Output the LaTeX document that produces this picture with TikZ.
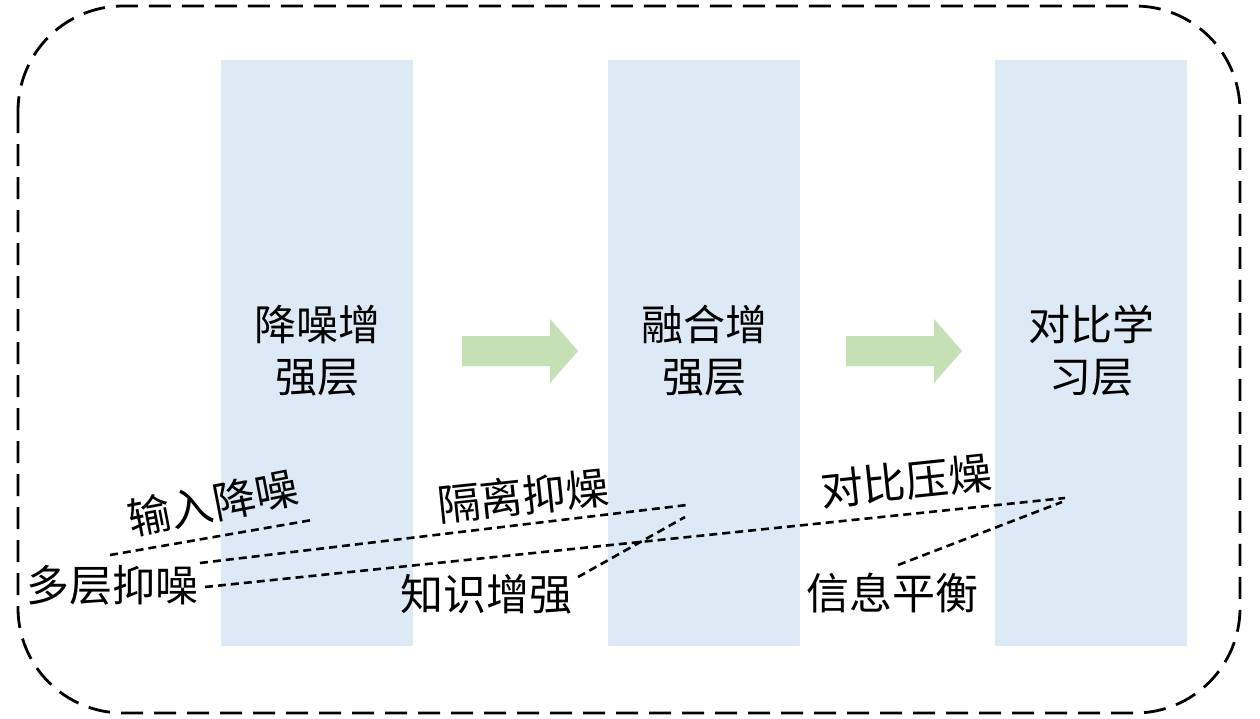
\documentclass[tikz,border=0pt]{standalone}
\usepackage{fontspec}
\setmainfont{Noto Sans CJK SC}
\definecolor{layerblue}{HTML}{DDE9F5}
\definecolor{arrowgreen}{HTML}{C5E0B4}
\tikzset{
  layer/.style={fill=layerblue, draw=none, minimum width=192pt, minimum height=586pt, inner sep=0pt},
  layertext/.style={align=center, font=\fontsize{42}{52}\selectfont, inner sep=0pt},
  flow/.style={fill=arrowgreen, draw=none},
  lbl/.style={font=\fontsize{43}{43}\selectfont, inner sep=0pt},
  dotline/.style={line width=2.6pt, dash pattern=on 8pt off 5pt},
  frame/.style={line width=2.8pt, dash pattern=on 22pt off 11pt, rounded corners=105pt}
}
\begin{document}
\begin{tikzpicture}[x=1pt,y=-1pt]
\useasboundingbox (0,0) rectangle (1260,718);
\draw[frame] (18,6) rectangle (1240,713);
% layers
\node[layer] (L1) at (317,353) {};
\node[layer] (L2) at (704,353) {};
\node[layer] (L3) at (1091,353) {};
\node[layertext] (t1) at (317,351) {降噪增\\强层};
\node[layertext] (t2) at (704,351) {融合增\\强层};
\node[layertext] (t3) at (1091,351) {对比学\\习层};
% flow arrows (block arrows)
\coordinate (a1) at (462,351);
\coordinate (a2) at (846,351);
\fill[flow] (a1) ++(0,-15) -- ++(88,0) -- ++(0,-17) -- ++(28,32) -- ++(-28,32) -- ++(0,-17) -- ++(-88,0) -- cycle;
\fill[flow] (a2) ++(0,-15) -- ++(88,0) -- ++(0,-17) -- ++(28,32) -- ++(-28,32) -- ++(0,-17) -- ++(-88,0) -- cycle;
% labels
\node[lbl] (ml) at (112,585) {多层抑噪};
\node[lbl, rotate=11] (inp) at (213,503) {输入降噪};
\node[lbl, rotate=6] (iso) at (523,496) {隔离抑燥};
\node[lbl, rotate=6] (con) at (906,481) {对比压燥};
\node[lbl] (kn) at (486,594) {知识增强};
\node[lbl] (inf) at (892,593) {信息平衡};
% line ends
\coordinate (s1) at (110,555);
\coordinate (s2) at (200,563);
\coordinate (s3) at (205,587);
\coordinate (s4) at (578,577);
\coordinate (s5) at (898,565);
\coordinate (e1) at (312,520);
\coordinate (e2) at (687,505);
\coordinate (e3) at (1065,498);
\coordinate (e4) at (685,517);
\coordinate (e5) at (1062,502);
\draw[dotline] (s1) -- (e1);
\draw[dotline] (s2) -- (e2);
\draw[dotline] (s3) -- (e3);
\draw[dotline] (s4) -- (e4);
\draw[dotline] (s5) -- (e5);
\end{tikzpicture}
\end{document}
